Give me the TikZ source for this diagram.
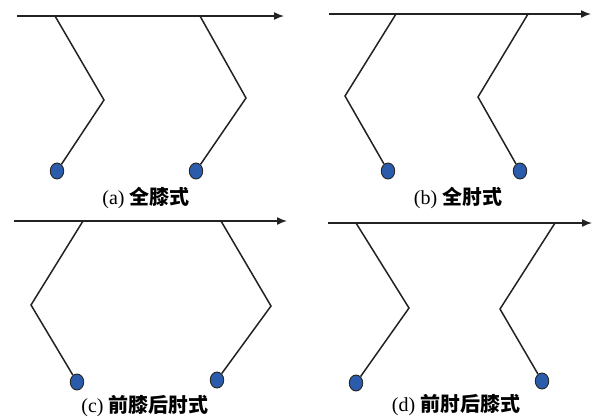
\documentclass[tikz,border=0pt]{standalone}
\usepackage{fontspec}
\setmainfont{Liberation Serif}
\newfontfamily\cjk{Noto Sans CJK SC}
\usetikzlibrary{arrows.meta,shapes.geometric}
\definecolor{footblue}{HTML}{2B5CAB}
\definecolor{rodgray}{HTML}{222222}
\begin{document}
\begin{tikzpicture}[x=1pt,y=-1pt,
  rod/.style={draw=rodgray, line width=1.5pt, line join=miter},
  axisline/.style={draw=rodgray, line width=1.5pt, -{Latex[length=10pt,width=8pt]}},
  foot/.style={ellipse, draw=black!85, fill=footblue, line width=0.9pt,
               minimum width=13.5pt, minimum height=16pt, inner sep=0pt},
  figlabel/.style={inner sep=0pt, font=\fontsize{20}{23}\selectfont}]
\useasboundingbox (0,0) rectangle (596,418);

% ---------- (a)
\coordinate (a0) at (17,16); \coordinate (a1) at (284,16);
\coordinate (aT1) at (55,16);  \coordinate (aK1) at (104,100);
\coordinate (aT2) at (200,16); \coordinate (aK2) at (246,98);
\node[foot] (aF1) at (57,171) {};
\node[foot] (aF2) at (196,171) {};
\draw[axisline] (a0) -- (a1);
\draw[rod] (aT1) -- (aK1) -- (aF1);
\draw[rod] (aT2) -- (aK2) -- (aF2);
\node[figlabel] (la) at (146,198) {(a) {\cjk\bfseries 全膝式}};

% ---------- (b)
\coordinate (b0) at (329,14); \coordinate (b1) at (591,14);
\coordinate (bT1) at (396,14); \coordinate (bK1) at (345,96);
\coordinate (bT2) at (528,14); \coordinate (bK2) at (478,97);
\node[foot] (bF1) at (388,171) {};
\node[foot] (bF2) at (520,171) {};
\draw[axisline] (b0) -- (b1);
\draw[rod] (bT1) -- (bK1) -- (bF1);
\draw[rod] (bT2) -- (bK2) -- (bF2);
\node[figlabel] (lb) at (458,198) {(b) {\cjk\bfseries 全肘式}};

% ---------- (c)
\coordinate (c0) at (14,221); \coordinate (c1) at (287,221);
\coordinate (cT1) at (83,221);  \coordinate (cK1) at (31,305);
\coordinate (cT2) at (221,221); \coordinate (cK2) at (271,306);
\node[foot] (cF1) at (77,382) {};
\node[foot] (cF2) at (217,380) {};
\draw[axisline] (c0) -- (c1);
\draw[rod] (cT1) -- (cK1) -- (cF1);
\draw[rod] (cT2) -- (cK2) -- (cF2);
\node[figlabel] (lc) at (145,406) {(c) {\cjk\bfseries 前膝后肘式}};

% ---------- (d)
\coordinate (d0) at (328,223); \coordinate (d1) at (592,223);
\coordinate (dT1) at (356,223); \coordinate (dK1) at (409,308);
\coordinate (dT2) at (555,223); \coordinate (dK2) at (500,309);
\node[foot] (dF1) at (356,383) {};
\node[foot] (dF2) at (542,381) {};
\draw[axisline] (d0) -- (d1);
\draw[rod] (dT1) -- (dK1) -- (dF1);
\draw[rod] (dT2) -- (dK2) -- (dF2);
\node[figlabel] (ld) at (456,405) {(d) {\cjk\bfseries 前肘后膝式}};
\end{tikzpicture}
\end{document}
